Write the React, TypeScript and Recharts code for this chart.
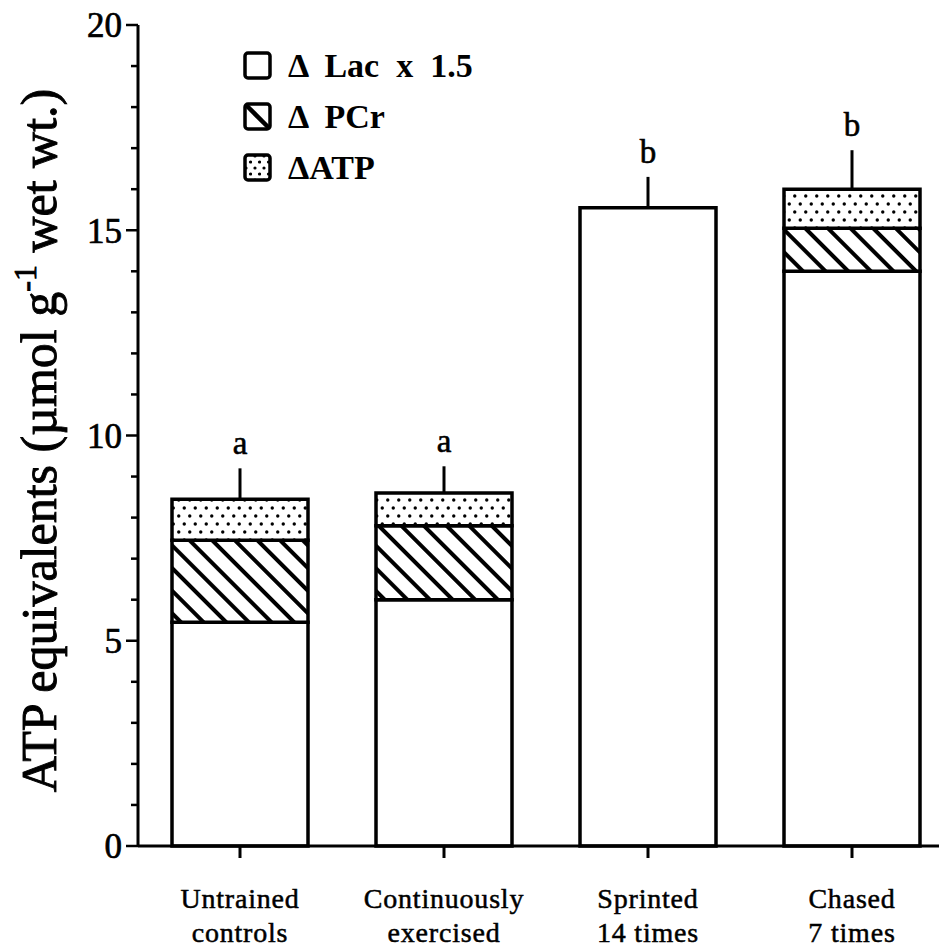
import React from 'react';
import { BarChart, Bar, XAxis, YAxis, LabelList, Legend } from 'recharts';

// Groups (two-line axis labels)
const categories: string[][] = [
  ['Untrained', 'controls'],
  ['Continuously', 'exercised'],
  ['Sprinted', '14 times'],
  ['Chased', '7 times'],
];

// ATP equivalents (µmol g-1 wet wt.), stacked components
const lacTimes15 = [5.45, 6.0, 15.55, 14.0];
const pcrDelta = [2.0, 1.8, 0, 1.05];
const atpDelta = [1.0, 0.8, 0, 0.95];
// Upper error (S.E.) above the stacked total
const seUpper = [0.75, 0.65, 0.75, 0.95];
// Significance letters
const groupLetters = ['a', 'a', 'b', 'b'];

const yTicks = [0, 1, 2, 3, 4, 5, 6, 7, 8, 9, 10, 11, 12, 13, 14, 15, 16, 17, 18, 19, 20];
const legendLabels = ['\u0394  Lac  x  1.5', '\u0394  PCr', '\u0394ATP'];

const FONT = '"Liberation Serif", "Times New Roman", Times, serif';

const data = categories.map((lines, i) => ({
  name: lines.join('\n'),
  lac: lacTimes15[i],
  pcr: pcrDelta[i],
  atp: atpDelta[i],
  err: seUpper[i],
  letter: groupLetters[i],
}));

const YTick = (props: any) => {
  const { x, y, payload } = props;
  const major = payload.value % 5 === 0;
  return (
    <g>
      <line x1={x} x2={x - (major ? 12 : 7)} y1={y} y2={y} stroke="#000" strokeWidth={2.5} />
      {major && (
        <text
          x={x - 16}
          y={y}
          dy="0.35em"
          textAnchor="end"
          fontFamily={FONT}
          fontSize={35}
          fill="#000"
          stroke="#000"
          strokeWidth={0.7}
        >
          {payload.value}
        </text>
      )}
    </g>
  );
};

const XTick = (props: any) => {
  const { x, y, payload } = props;
  const lines = String(payload.value).split('\n');
  return (
    <g>
      {lines.map((l, i) => (
        <text
          key={i}
          x={x}
          y={y + 50 + i * 34}
          textAnchor="middle"
          fontFamily={FONT}
          fontSize={28}
          letterSpacing={0.8}
          fill="#000"
          stroke="#000"
          strokeWidth={0.5}
        >
          {l}
        </text>
      ))}
    </g>
  );
};

// Upward-only error line drawn from the stacked total to total + S.E.
const ErrShape = (props: any) => {
  const { x, y, width, height } = props;
  if (!height) return null;
  const cx = x + width / 2;
  return <line x1={cx} x2={cx} y1={y} y2={y + height} stroke="#000" strokeWidth={3} />;
};

const YLabel = (props: any) => {
  const vb = props.viewBox || {};
  const cx = (vb.x ?? 78) - 22;
  const cy = (vb.y ?? 25) + (vb.height ?? 821) / 2 + 5;
  return (
    <text
      x={cx}
      y={cy}
      transform={`rotate(-90, ${cx}, ${cy})`}
      textAnchor="middle"
      fontFamily={FONT}
      fontSize={50}
      fill="#000"
      stroke="#000"
      strokeWidth={0.9}
    >
      <tspan>ATP equivalents (µmol g</tspan>
      <tspan fontSize={32} dy={-20}>-1</tspan>
      <tspan dy={20}> wet wt.)</tspan>
    </text>
  );
};

const LegendIcon = ({ kind }: { kind: number }) => (
  <svg width={30} height={30} style={{ display: 'block' }}>
    <rect
      x={2}
      y={2}
      width={25}
      height={25}
      rx={3}
      fill={kind === 2 ? 'url(#dotsSmall)' : '#fff'}
      stroke="#000"
      strokeWidth={3.5}
    />
    {kind === 1 && <line x1={3} y1={3} x2={26} y2={26} stroke="#000" strokeWidth={4.5} />}
  </svg>
);

const LegendBox = () => (
  <div style={{ fontFamily: FONT }}>
    {legendLabels.map((label, i) => (
      <div key={i} style={{ display: 'flex', alignItems: 'center', height: 51 }}>
        <LegendIcon kind={i} />
        <span
          style={{
            marginLeft: 15,
            fontSize: 34,
            fontWeight: 'bold',
            whiteSpace: 'pre',
            color: '#000',
            lineHeight: '34px',
          }}
        >
          {label}
        </span>
      </div>
    ))}
  </div>
);

export default function App() {
  return (
    <div
      style={{
        position: 'fixed',
        left: 0,
        top: 0,
        width: 939,
        height: 951,
        overflow: 'hidden',
        background: '#fff',
      }}
    >
      <svg width={0} height={0} style={{ position: 'absolute' }}>
        <defs>
          <pattern id="hatch" patternUnits="userSpaceOnUse" width={16} height={16} patternTransform="rotate(45)">
            <rect width={16} height={16} fill="#fff" />
            <line x1={0} y1={8} x2={16} y2={8} stroke="#000" strokeWidth={4} />
          </pattern>
          <pattern id="dots" patternUnits="userSpaceOnUse" width={11} height={16}>
            <rect width={11} height={16} fill="#fff" />
            <circle cx={2.75} cy={4} r={1.7} fill="#000" />
            <circle cx={8.25} cy={12} r={1.7} fill="#000" />
          </pattern>
          <pattern id="dotsSmall" patternUnits="userSpaceOnUse" width={9} height={12}>
            <rect width={9} height={12} fill="#fff" />
            <circle cx={3} cy={3} r={1.6} fill="#000" />
            <circle cx={7.5} cy={9} r={1.6} fill="#000" />
          </pattern>
        </defs>
      </svg>
      <BarChart
        width={960}
        height={951}
        data={data}
        margin={{ top: 25, right: 6, bottom: 0, left: 78 }}
        barCategoryGap={34}
      >
        <XAxis
          dataKey="name"
          height={105}
          interval={0}
          axisLine={{ stroke: '#000', strokeWidth: 3 }}
          tickLine={{ stroke: '#000', strokeWidth: 3 }}
          tickSize={12}
          tickMargin={0}
          tick={<XTick />}
        />
        <YAxis
          width={60}
          domain={[0, 20]}
          ticks={yTicks}
          interval={0}
          axisLine={{ stroke: '#000', strokeWidth: 3 }}
          tickLine={false}
          tickSize={0}
          tickMargin={0}
          tick={<YTick />}
          label={<YLabel />}
        />
        <Legend
          layout="vertical"
          align="center"
          verticalAlign="middle"
          content={() => <LegendBox />}
          wrapperStyle={{ position: 'absolute', left: 243, top: 40, width: 320 }}
        />
        <Bar dataKey="lac" stackId="s" fill="#fff" stroke="#000" strokeWidth={3.5} isAnimationActive={false} />
        <Bar dataKey="pcr" stackId="s" fill="url(#hatch)" stroke="#000" strokeWidth={3.5} isAnimationActive={false} />
        <Bar dataKey="atp" stackId="s" fill="url(#dots)" stroke="#000" strokeWidth={3.5} isAnimationActive={false} />
        <Bar dataKey="err" stackId="s" fill="none" shape={<ErrShape />} isAnimationActive={false}>
          <LabelList
            dataKey="letter"
            position="top"
            offset={14}
            fontFamily={FONT}
            fontSize={33}
            fill="#000"
            stroke="#000"
            strokeWidth={0.6}
          />
        </Bar>
      </BarChart>
    </div>
  );
}
